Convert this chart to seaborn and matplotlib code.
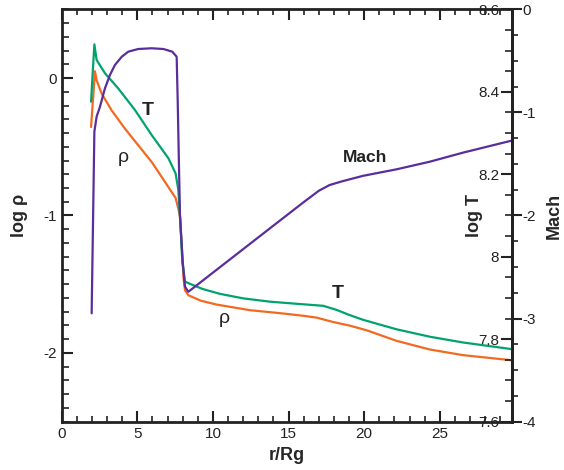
import numpy as np
import pandas as pd
import seaborn as sns
import matplotlib
matplotlib.use("Agg")
import matplotlib.pyplot as plt
from matplotlib.ticker import MultipleLocator

# ---- data ----
rho_r = [1.94, 2.20, 2.31, 2.64, 3.30, 4.18, 5.06, 5.95, 6.83, 7.53, 7.71, 7.82, 7.95, 8.05,
         8.15, 8.37, 9.20, 10.24, 12.45, 14.65, 16.00, 16.85, 17.95, 19.00, 20.16, 22.14,
         24.34, 26.54, 29.74]
rho_v = [-0.356, 0.049, -0.017, -0.113, -0.235, -0.368, -0.489, -0.611, -0.756, -0.873,
         -0.95, -1.01, -1.25, -1.45, -1.544, -1.58, -1.62, -1.648, -1.689, -1.713, -1.73,
         -1.743, -1.775, -1.80, -1.835, -1.912, -1.975, -2.016, -2.053]

T_r = [1.94, 2.16, 2.31, 2.86, 3.74, 4.84, 5.95, 7.05, 7.53, 7.71, 7.85, 7.97, 8.15, 8.37,
       9.30, 10.46, 12.00, 13.77, 15.50, 17.29, 18.18, 19.00, 19.93, 22.14, 24.34, 26.54,
       29.74]
T_v = [8.376, 8.515, 8.477, 8.445, 8.408, 8.356, 8.295, 8.239, 8.202, 8.162, 8.08, 7.99,
       7.940, 7.936, 7.922, 7.910, 7.899, 7.891, 7.886, 7.881, 7.871, 7.859, 7.847, 7.824,
       7.806, 7.792, 7.776]

M_r = [1.98, 2.16, 2.31, 2.53, 2.86, 3.19, 3.52, 3.97, 4.40, 5.06, 5.95, 6.72, 7.31, 7.60,
       7.67, 7.75, 7.82, 8.00, 8.15, 8.37, 13.77, 16.00, 17.00, 17.70, 18.50, 19.93, 22.14,
       24.34, 26.54, 29.74]
M_v = [-2.949, -1.187, -1.04, -0.945, -0.766, -0.637, -0.54, -0.46, -0.411, -0.385, -0.378,
       -0.385, -0.411, -0.46, -0.896, -1.5, -2.0, -2.45, -2.69, -2.74, -2.124, -1.87, -1.76,
       -1.705, -1.67, -1.615, -1.552, -1.478, -1.39, -1.274]

x_ticks = [0, 5, 10, 15, 20, 25]
rho_ticks = [-2, -1, 0]
T_ticks = [7.6, 7.8, 8.0, 8.2, 8.4, 8.6]
T_labels = ["7.6", "7.8", "8", "8.2", "8.4", "8.6"]
M_ticks = [-4, -3, -2, -1, 0]

GREEN = "#00a36f"
ORANGE = "#f26a21"
PURPLE = "#5a2d9c"
INK = "#222222"

sns.set_style("ticks")
plt.rcParams["font.family"] = ["Liberation Sans", "DejaVu Sans"]
plt.rcParams["text.color"] = INK
plt.rcParams["axes.unicode_minus"] = False

fig = plt.figure(figsize=(5.64, 4.70), dpi=100)
ax = fig.add_axes([0.1094, 0.1028, 0.7979, 0.8774])
ax2 = ax.twinx()
ax3 = ax.twinx()

df_rho = pd.DataFrame({"r": rho_r, "v": rho_v})
df_T = pd.DataFrame({"r": T_r, "v": T_v})
df_M = pd.DataFrame({"r": M_r, "v": M_v})

sns.lineplot(data=df_rho, x="r", y="v", ax=ax, color=ORANGE, lw=1.6, sort=False, estimator=None)
sns.lineplot(data=df_T, x="r", y="v", ax=ax2, color=GREEN, lw=1.6, sort=False, estimator=None)
sns.lineplot(data=df_M, x="r", y="v", ax=ax3, color=PURPLE, lw=1.6, sort=False, estimator=None)

ax.set_xlim(0, 29.75)
ax.set_ylim(-2.5, 0.5)
ax2.set_ylim(7.6, 8.6)
ax3.set_ylim(-4, 0)

lw_sp = 2.0
for s in ["left", "bottom", "top", "right"]:
    ax.spines[s].set_linewidth(lw_sp)
    ax.spines[s].set_color(INK)
for a in (ax2, ax3):
    for s in ["left", "bottom", "top"]:
        a.spines[s].set_visible(False)
    a.spines["right"].set_linewidth(lw_sp)
    a.spines["right"].set_color(INK)

# x axis
ax.set_xticks(x_ticks)
ax.xaxis.set_minor_locator(MultipleLocator(1))
ax.tick_params(axis="x", which="major", direction="in", length=8, width=1.5,
               top=True, labelsize=11, pad=4, colors=INK)
ax.tick_params(axis="x", which="minor", direction="in", length=4, width=1.2, top=True,
               colors=INK)
ax.set_xlabel("r/Rg", fontsize=13, fontweight="bold")

# left axis
ax.set_yticks(rho_ticks)
ax.yaxis.set_minor_locator(MultipleLocator(0.1))
ax.tick_params(axis="y", which="major", direction="in", length=8, width=1.5,
               right=False, labelsize=11, colors=INK)
ax.tick_params(axis="y", which="minor", direction="in", length=5, width=1.2, right=False,
               colors=INK)
ax.set_ylabel("log ρ", fontsize=13, fontweight="bold")
ax.yaxis.set_label_coords(-0.075, 0.5)

# log T axis (labels inside)
ax2.set_yticks(T_ticks)
ax2.set_yticklabels(T_labels)
ax2.yaxis.set_minor_locator(MultipleLocator(0.05))
ax2.tick_params(axis="y", which="major", direction="in", length=8, width=1.5,
                labelsize=11, pad=-9, colors=INK)
ax2.tick_params(axis="y", which="minor", direction="in", length=5, width=1.2, colors=INK)
for lbl in ax2.get_yticklabels():
    lbl.set_horizontalalignment("right")
ax2.set_ylabel("log T", fontsize=13, fontweight="bold")
ax2.yaxis.set_label_coords(0.898, 0.5)

# Mach axis (outside)
ax3.set_yticks(M_ticks)
ax3.yaxis.set_minor_locator(MultipleLocator(0.25))
ax3.tick_params(axis="y", which="major", direction="out", length=7, width=1.5,
                labelsize=11, pad=1, colors=INK)
ax3.tick_params(axis="y", which="minor", direction="out", length=4, width=1.2, colors=INK)
ax3.set_ylabel("Mach", fontsize=13, fontweight="bold")
ax3.yaxis.set_label_coords(1.075, 0.5)

# curve labels
ax.text(5.7, -0.235, "T", fontsize=14, fontweight="bold", ha="center", va="center")
ax.text(4.05, -0.575, "ρ", fontsize=14, ha="center", va="center")
ax.text(20.05, -0.575, "Mach", fontsize=12.5, fontweight="bold", ha="center", va="center")
ax.text(18.26, -1.566, "T", fontsize=14, fontweight="bold", ha="center", va="center")
ax.text(10.73, -1.748, "ρ", fontsize=14, ha="center", va="center")

fig.savefig("out.png", dpi=100)
